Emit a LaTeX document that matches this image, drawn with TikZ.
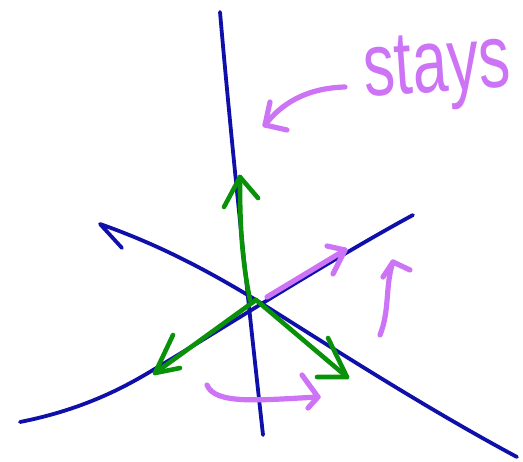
\documentclass[tikz,border=0pt]{standalone}
\usepackage{fontspec}
\setsansfont{Liberation Sans}

\definecolor{penblue}{RGB}{15,15,170}
\definecolor{pengreen}{RGB}{10,145,10}
\definecolor{penpink}{RGB}{205,115,245}

\tikzset{
	blueline/.style={penblue, line width=1.9pt, line cap=round, line join=round},
	greenline/.style={pengreen, line width=2.3pt, line cap=round, line join=round},
	pinkline/.style={penpink, line width=2.6pt, line cap=round, line join=round}
}

\begin{document}
\begin{tikzpicture}[x=0.5pt, y=-0.5pt]
			\useasboundingbox (0,0) rectangle (523,461);
			
			\coordinate (O) at (256,300);
			
			% blue curves
			\draw[blueline] (220,12) .. controls (232,150) and (248,300) .. (263,435);
			\draw[blueline] (122,248) -- (100,224) .. controls (160,245) and (210,272) .. (O)
				.. controls (320,340) and (420,405) .. (517,457);
			\draw[blueline] (20,422) .. controls (80,410) and (120,390) .. (153,370)
				.. controls (220,330) and (330,260) .. (413,215);
			
			% green arrows
			\coordinate (g1) at (240,177);
			\coordinate (g2) at (155,373);
			\coordinate (g3) at (347,377);
			\draw[greenline] (250,300) .. controls (240,250) and (240,210) .. (g1);
			\draw[greenline] (224,207) -- (g1) -- (258,198);
			\draw[greenline] (O) -- (g2);
			\draw[greenline] (173,335) -- (g2) -- (180,368);
			\draw[greenline] (O) -- (g3);
			\draw[greenline] (328,338) -- (g3) -- (317,377);
			
			% pink arrows
			\coordinate (p1) at (345,250);
			\coordinate (p2) at (393,262);
			\coordinate (p3) at (318,397);
			\coordinate (p4) at (265,125);
			\draw[pinkline] (267,297) -- (p1);
			\draw[pinkline] (327,246) -- (p1) -- (333,274);
			\draw[pinkline] (380,335) .. controls (390,310) and (385,285) .. (p2);
			\draw[pinkline] (383,277) -- (p2) -- (410,270);
			\draw[pinkline] (207,385) .. controls (215,405) and (260,400) .. (p3);
			\draw[pinkline] (302,375) -- (p3) -- (308,408);
			\draw[pinkline] (345,87) .. controls (305,88) and (280,105) .. (p4);
			\draw[pinkline] (270,102) -- (p4) -- (287,130);
			
			\node[penpink, anchor=base west, inner sep=0, rotate=4] (stays) at (365,97)
				{\scalebox{0.7}[1]{\sffamily\fontsize{45}{50}\selectfont stays}};
		\end{tikzpicture}
\end{document}
